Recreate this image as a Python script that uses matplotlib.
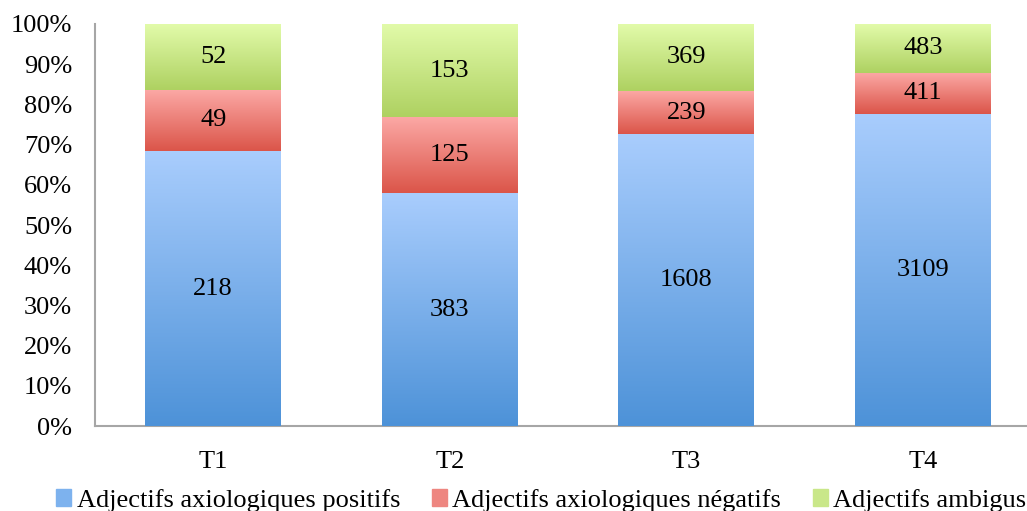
import numpy as np
import matplotlib

matplotlib.use("Agg")
import matplotlib.pyplot as plt
from matplotlib.colors import LinearSegmentedColormap
from matplotlib.patches import Rectangle

categories = ["T1", "T2", "T3", "T4"]
positifs = [218, 383, 1608, 3109]
negatifs = [49, 125, 239, 411]
ambigus = [52, 153, 369, 483]
series_names = [
    "Adjectifs axiologiques positifs",
    "Adjectifs axiologiques négatifs",
    "Adjectifs ambigus",
]
y_ticks = [0, 10, 20, 30, 40, 50, 60, 70, 80, 90, 100]

# (top colour, bottom colour) for each series gradient
gradients = [
    ("#a9cdfd", "#4d92d8"),
    ("#fca9a6", "#db5549"),
    ("#e2fbaa", "#aed161"),
]
legend_colors = ["#7db2ee", "#ee8680", "#c9e789"]

plt.rcParams["font.family"] = ["Liberation Serif", "DejaVu Serif"]
FS = 19

counts = np.array([positifs, negatifs, ambigus], dtype=float)
pct = counts / counts.sum(axis=0) * 100

fig = plt.figure(figsize=(10.27, 5.11), dpi=100)
ax = fig.add_axes([95 / 1027, 85 / 511, 946 / 1027, 402 / 511])

x = np.arange(len(categories))
width = 0.575
grad = np.linspace(0, 1, 256).reshape(-1, 1)
bottom = np.zeros(len(categories))
for i, name in enumerate(series_names):
    top_c, bot_c = gradients[i]
    cmap = LinearSegmentedColormap.from_list(f"g{i}", [bot_c, top_c])
    bars = ax.bar(x, pct[i], width, bottom=bottom, color=bot_c, label=name, zorder=2)
    for j, bar in enumerate(bars):
        bx, by = bar.get_x(), bar.get_y()
        bw, bh = bar.get_width(), bar.get_height()
        im = ax.imshow(grad, cmap=cmap, origin="lower", aspect="auto",
                       extent=[bx, bx + bw, by, by + bh], zorder=3)
        im.set_clip_path(bar)
        ax.text(bx + bw / 2, by + bh / 2, f"{int(counts[i, j])}",
                ha="center", va="center", fontsize=FS, zorder=4)
    bottom += pct[i]

ax.set_xlim(-0.5, len(categories) - 0.5)
ax.set_ylim(0, 100)
ax.set_xticks(x)
ax.set_xticklabels(categories, fontsize=FS)
ax.set_yticks(y_ticks)
ax.set_yticklabels([f"{t}%" for t in y_ticks], fontsize=FS)
ax.tick_params(axis="both", length=0)
ax.tick_params(axis="y", pad=16.5)
ax.tick_params(axis="x", pad=18)
for s in ("top", "right"):
    ax.spines[s].set_visible(False)
for s in ("left", "bottom"):
    ax.spines[s].set_color("#a6a6a6")
    ax.spines[s].set_linewidth(1.5)

handles = [Rectangle((0, 0), 1, 1, color=c) for c in legend_colors]
fig.legend(handles, series_names, loc="center", bbox_to_anchor=(0.527, 0.021),
           ncol=3, frameon=False, fontsize=FS, handlelength=0.57, handleheight=0.57,
           handletextpad=0.2, columnspacing=1.2, borderaxespad=0, borderpad=0)

fig.savefig("out.png", dpi=100)
